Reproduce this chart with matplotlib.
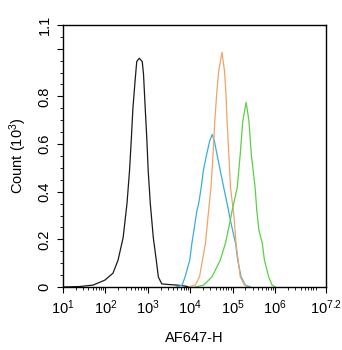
import numpy as np
import matplotlib
matplotlib.use("Agg")
import matplotlib.pyplot as plt
from matplotlib.ticker import FixedLocator, LogLocator, NullFormatter

plt.rcParams['font.family'] = ['Liberation Sans', 'DejaVu Sans']
plt.rcParams['mathtext.fontset'] = 'custom'
plt.rcParams['mathtext.rm'] = 'Liberation Sans'
plt.rcParams['mathtext.it'] = 'Liberation Sans'

# log10(AF647-H) positions and counts (x10^3) for each histogram
black_logx = [1.00, 1.40, 1.71, 1.99, 2.18, 2.30, 2.42, 2.51, 2.57, 2.61, 2.65, 2.70, 2.74, 2.80,
              2.87, 2.90, 2.94, 2.98, 3.01, 3.06, 3.13, 3.20, 3.25, 3.33, 3.53, 3.70, 3.88, 4.00]
black_cnt = [0.000, 0.002, 0.008, 0.029, 0.058, 0.113, 0.208, 0.350, 0.488, 0.613, 0.750, 0.863, 0.946, 0.960,
             0.946, 0.892, 0.750, 0.613, 0.488, 0.350, 0.208, 0.113, 0.042, 0.013, 0.010, 0.008, 0.004, 0.000]

cyan_logx = [3.67, 3.81, 3.88, 3.99, 4.04, 4.16, 4.20, 4.26, 4.31, 4.39, 4.46, 4.52,
             4.57, 4.63, 4.71, 4.79, 4.87, 4.95, 5.00, 5.07, 5.12, 5.20, 5.30, 5.42]
cyan_cnt = [0.000, 0.008, 0.043, 0.113, 0.183, 0.321, 0.350, 0.418, 0.488, 0.558, 0.613, 0.640,
            0.613, 0.558, 0.488, 0.418, 0.350, 0.279, 0.238, 0.183, 0.113, 0.043, 0.008, 0.000]

orange_logx = [3.955, 4.12, 4.22, 4.29, 4.36, 4.435, 4.49, 4.54, 4.58, 4.63, 4.67, 4.75,
               4.81, 4.84, 4.87, 4.91, 4.95, 5.03, 5.08, 5.13, 5.18, 5.28, 5.37]
orange_cnt = [0.000, 0.008, 0.043, 0.113, 0.183, 0.321, 0.418, 0.558, 0.696, 0.821, 0.904, 0.985,
              0.904, 0.821, 0.696, 0.558, 0.418, 0.300, 0.183, 0.113, 0.043, 0.008, 0.000]

green_logx = [4.12, 4.32, 4.515, 4.71, 4.83, 4.92, 4.99, 5.11, 5.18, 5.24, 5.32,
              5.385, 5.44, 5.53, 5.57, 5.62, 5.70, 5.75, 5.85, 5.93, 6.01]
green_cnt = [0.000, 0.008, 0.043, 0.113, 0.183, 0.258, 0.321, 0.418, 0.558, 0.696, 0.775,
             0.696, 0.558, 0.418, 0.321, 0.238, 0.183, 0.113, 0.043, 0.008, 0.000]

x_tick_exps = [1, 2, 3, 4, 5, 6, 7.2]
x_tick_labels = [r'$10^{1}$', r'$10^{2}$', r'$10^{3}$', r'$10^{4}$', r'$10^{5}$', r'$10^{6}$', r'$10^{7.2}$']
y_ticks = [0, 0.2, 0.4, 0.6, 0.8, 1.0, 1.1]
y_tick_labels = ['0', '0.2', '0.4', '0.6', '0.8', '', '1.1']

fig = plt.figure(figsize=(3.42, 3.50), dpi=100)
ax = fig.add_axes([0.184, 0.18, 0.769, 0.749])

series = [
    (black_logx, black_cnt, '#1a1a1a'),
    (cyan_logx, cyan_cnt, '#3aaed6'),
    (orange_logx, orange_cnt, '#f0a468'),
    (green_logx, green_cnt, '#5ccf48'),
]
for lx, c, col in series:
    ax.plot(10 ** np.array(lx), c, color=col, lw=0.9)

ax.set_xscale('log')
ax.set_xlim(10 ** 1, 10 ** 7.2)
ax.set_ylim(0, 1.1)
ax.xaxis.set_major_locator(FixedLocator([10 ** e for e in x_tick_exps]))
ax.set_xticklabels(x_tick_labels)
ax.xaxis.set_minor_locator(LogLocator(base=10, subs=np.arange(2, 10), numticks=20))
ax.xaxis.set_minor_formatter(NullFormatter())
ax.set_yticks(y_ticks)
ax.set_yticklabels(y_tick_labels, rotation=90, va='center')
ax.yaxis.set_minor_locator(FixedLocator(np.arange(0, 1.1, 0.05)))

ax.tick_params(which='major', length=4, width=0.8, labelsize=10.5, pad=4)
ax.tick_params(which='minor', length=2, width=0.6)
for s in ax.spines.values():
    s.set_linewidth(1.0)

ax.set_xlabel('AF647-H', fontsize=10.5, labelpad=10)
ax.set_ylabel(r'Count ($10^{3}$)', fontsize=10.5, labelpad=6)

fig.savefig('out.png', dpi=100)
